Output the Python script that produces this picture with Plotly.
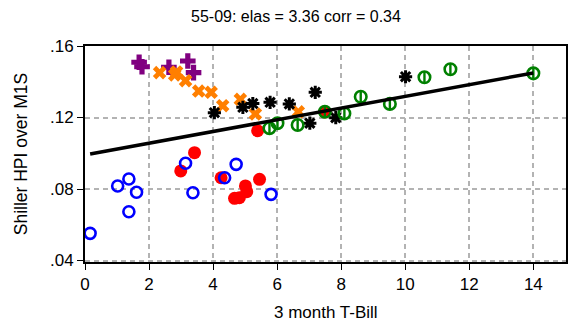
import plotly.graph_objects as go

# 3-month T-bill rate (x) vs Shiller HPI over M1S (y), grouped by period
purple_x = [1.69, 1.78, 2.62, 3.21, 3.39]
purple_y = [0.1509, 0.1484, 0.1481, 0.1516, 0.1451]

orange_x = [2.33, 2.80, 2.86, 3.14, 3.55, 3.94, 4.30, 4.85, 5.32, 6.66]
orange_y = [0.1451, 0.1438, 0.1455, 0.1406, 0.1348, 0.1341, 0.1266, 0.1302, 0.1220, 0.1232]

black_x = [4.04, 4.93, 5.24, 5.78, 6.38, 7.02, 7.19, 7.83, 10.01]
black_y = [0.1227, 0.1257, 0.1278, 0.1285, 0.1276, 0.1168, 0.1341, 0.1199, 0.1428]

red_x = [5.39, 7.49, 3.42, 2.99, 4.25, 5.45, 5.01, 5.05, 4.67, 4.82]
red_y = [0.1126, 0.1231, 0.1003, 0.0901, 0.0863, 0.0854, 0.0817, 0.0785, 0.0748, 0.0751]

blue_x = [0.16, 1.02, 1.37, 1.61, 1.37, 3.14, 3.37, 4.36, 4.72, 5.81]
blue_y = [0.0552, 0.0817, 0.0856, 0.0782, 0.0673, 0.0944, 0.0779, 0.0863, 0.0938, 0.0770]

green_x = [5.76, 6.01, 6.64, 7.49, 8.10, 8.61, 9.52, 10.60, 11.41, 14.00]
green_y = [0.1140, 0.1168, 0.1158, 0.1232, 0.1223, 0.1316, 0.1276, 0.1425, 0.1470, 0.1447]

# linear fit over the full sample
fit_intercept = 0.0991
fit_slope = 0.003273

x_ticks = [0, 2, 4, 6, 8, 10, 12, 14]
y_ticks = [0.04, 0.08, 0.12, 0.16]
y_tick_text = [".04", ".08", ".12", ".16"]

title_text = "55-09: elas = 3.36 corr = 0.34"
x_title = "3 month T-Bill"
y_title = "Shiller HPI over M1S"

FONT = "Liberation Sans, Arial, sans-serif"

all_x = purple_x + orange_x + black_x + red_x + blue_x + green_x
fit_x = [min(all_x), max(all_x)]
fit_y = [fit_intercept + fit_slope * v for v in fit_x]

fig = go.Figure()

fig.add_trace(go.Scatter(
    x=purple_x, y=purple_y, mode="markers",
    marker=dict(symbol="cross", size=13, color="#800080", line=dict(width=0))))
fig.add_trace(go.Scatter(
    x=orange_x, y=orange_y, mode="markers",
    marker=dict(symbol="x", size=12, color="#ff7f00", line=dict(width=0))))
fig.add_trace(go.Scatter(
    x=black_x, y=black_y, mode="markers",
    marker=dict(symbol="asterisk-open", size=11, color="black",
                line=dict(width=3, color="black"))))
fig.add_trace(go.Scatter(
    x=red_x, y=red_y, mode="markers",
    marker=dict(symbol="circle", size=13, color="#ff0000", line=dict(width=0))))
fig.add_trace(go.Scatter(
    x=blue_x, y=blue_y, mode="markers",
    marker=dict(symbol="circle-open", size=11, color="#0000ff",
                line=dict(width=2.6, color="#0000ff"))))
fig.add_trace(go.Scatter(
    x=green_x, y=green_y, mode="markers",
    marker=dict(symbol="circle-open", size=11.5, color="#008000",
                line=dict(width=2.6, color="#008000"))))
fig.add_trace(go.Scatter(
    x=green_x, y=green_y, mode="markers",
    marker=dict(symbol="line-ns-open", size=8, color="#008000",
                line=dict(width=2.4, color="#008000"))))
fig.add_trace(go.Scatter(
    x=fit_x, y=fit_y, mode="lines",
    line=dict(color="black", width=3.5)))

axis_common = dict(
    showline=True, linecolor="black", linewidth=2, mirror=True,
    showgrid=True, gridcolor="#b3b3b3", gridwidth=1.5, griddash="5px,4px",
    zeroline=False, ticks="outside", ticklen=6, tickwidth=1.3, tickcolor="black",
    tickfont=dict(family=FONT, size=17, color="black"),
)

fig.update_xaxes(range=[0, 15.02], tickvals=x_ticks, **axis_common)
fig.update_yaxes(range=[0.03916, 0.16], tickvals=y_ticks, ticktext=y_tick_text,
                 **axis_common)

# plot-area size, used to place the titles in paper coordinates
plot_w = 573 - 85 - 5
plot_h = 325 - 46 - 63

fig.update_layout(
    width=573, height=325,
    margin=dict(l=85, r=5, t=46, b=63),
    paper_bgcolor="white", plot_bgcolor="white",
    showlegend=False,
    font=dict(family=FONT, color="black"),
    annotations=[
        dict(text=title_text, x=(297 - 85) / plot_w, y=(325 - 63 - 17) / plot_h,
             xref="paper", yref="paper", showarrow=False,
             font=dict(family=FONT, size=16, color="black"),
             xanchor="center", yanchor="middle"),
        dict(text=x_title, x=0.5, y=(325 - 63 - 312) / plot_h,
             xref="paper", yref="paper", showarrow=False,
             font=dict(family=FONT, size=17, color="black"),
             xanchor="center", yanchor="middle"),
        dict(text=y_title, x=(21 - 85) / plot_w, y=0.5,
             xref="paper", yref="paper", showarrow=False, textangle=-90,
             font=dict(family=FONT, size=17.5, color="black"),
             xanchor="center", yanchor="middle"),
    ],
)

fig.write_html("out.html")
